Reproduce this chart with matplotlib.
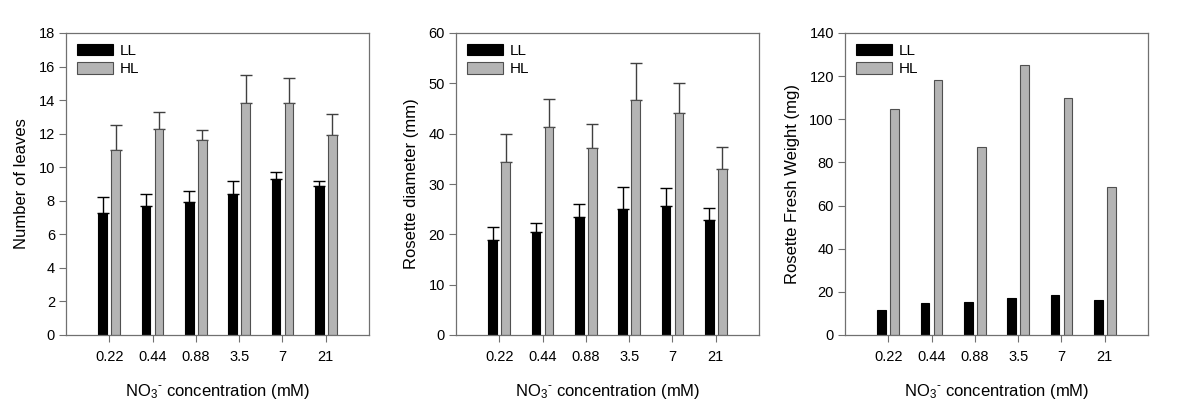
import numpy as np
import matplotlib
matplotlib.use("Agg")
import matplotlib.pyplot as plt

plt.rcParams["font.family"] = ["Liberation Sans", "DejaVu Sans"]
plt.rcParams["mathtext.fontset"] = "custom"
plt.rcParams["mathtext.rm"] = "Liberation Sans"
plt.rcParams["mathtext.it"] = "Liberation Sans:italic"

conc = ["0.22", "0.44", "0.88", "3.5", "7", "21"]

leaves_ll = [7.3, 7.7, 7.9, 8.4, 9.3, 8.9]
leaves_ll_err = [0.9, 0.7, 0.7, 0.8, 0.4, 0.3]
leaves_hl = [11.0, 12.3, 11.6, 13.8, 13.8, 11.9]
leaves_hl_err = [1.5, 1.0, 0.6, 1.7, 1.5, 1.3]

diam_ll = [18.9, 20.5, 23.4, 25.1, 25.6, 22.9]
diam_ll_err = [2.5, 1.7, 2.7, 4.3, 3.6, 2.4]
diam_hl = [34.3, 41.4, 37.1, 46.7, 44.1, 33.0]
diam_hl_err = [5.7, 5.4, 4.9, 7.4, 6.0, 4.3]

fw_ll = [11.6, 15.0, 15.3, 17.0, 18.5, 16.1]
fw_hl = [105.0, 118.1, 87.0, 125.3, 110.0, 68.5]

panels = [
    ("Number of leaves", leaves_ll, leaves_ll_err, leaves_hl, leaves_hl_err, 18, 2),
    ("Rosette diameter (mm)", diam_ll, diam_ll_err, diam_hl, diam_hl_err, 60, 10),
    ("Rosette Fresh Weight (mg)", fw_ll, None, fw_hl, None, 140, 20),
]

fig = plt.figure(figsize=(11.81, 4.07), dpi=100)
lefts = [66, 456, 845]
x = np.arange(1, len(conc) + 1)
w = 0.2
frame = "#707070"
hl_col = "#b4b4b4"
hl_edge = "#505050"

for left, (ylab, ll, ll_err, hl, hl_err, ymax, step) in zip(lefts, panels):
    ax = fig.add_axes([left / 1181, 1 - 335 / 407, 303 / 1181, 302 / 407])
    ax.bar(x - 0.15, ll, w, color="black", edgecolor="black", linewidth=0.8, label="LL", zorder=2)
    ax.bar(x + 0.15, hl, w, color=hl_col, edgecolor=hl_edge, linewidth=0.8, label="HL", zorder=2)
    if ll_err is not None:
        ax.errorbar(x - 0.15, ll, yerr=[np.zeros(len(ll)), ll_err], fmt="none",
                    ecolor="black", elinewidth=1, capsize=4.3, capthick=1, zorder=1)
        ax.errorbar(x + 0.15, hl, yerr=[np.zeros(len(hl)), hl_err], fmt="none",
                    ecolor="#404040", elinewidth=1, capsize=4.3, capthick=1, zorder=1)
    ax.set_xlim(0, 7)
    ax.set_ylim(0, ymax)
    ax.set_yticks(np.arange(0, ymax + 1, step))
    ax.set_xticks(x)
    ax.set_xticklabels(conc)
    ax.tick_params(direction="out", length=5, width=0.8, color=frame, labelsize=10.5)
    ax.tick_params(axis="x", pad=6)
    ax.tick_params(axis="y", pad=3)
    for s in ax.spines.values():
        s.set_color(frame)
        s.set_linewidth(0.9)
    ax.set_ylabel(ylab, fontsize=12, labelpad=7)
    ax.set_xlabel(r"NO$_3$$^{\text{-}}$ concentration (mM)", fontsize=12, labelpad=13)
    ax.legend(loc="upper left", frameon=False, fontsize=11, handlelength=2.4,
              handleheight=0.75, handletextpad=0.4, labelspacing=0.3,
              borderaxespad=0.3, bbox_to_anchor=(0.0, 1.0))

fig.savefig("out.png", dpi=100)
